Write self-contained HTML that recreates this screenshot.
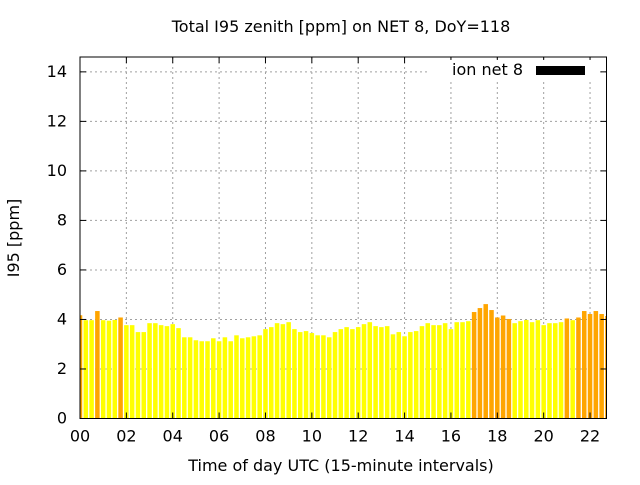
<!DOCTYPE html>
<html><head><meta charset="utf-8"><style>
body{margin:0;background:#fff}
svg text{font-family:"DejaVu Sans","Liberation Sans",sans-serif;fill:#000}
</style></head><body>
<svg id="chart" width="640" height="480" viewBox="0 0 640 480" xmlns="http://www.w3.org/2000/svg">
<rect width="640" height="480" fill="#fff"/>
<defs><clipPath id="pc"><rect x="80" y="57" width="526.5" height="361.5"/></clipPath></defs>
<g id="grid"></g>
<g id="bars" clip-path="url(#pc)"></g>
<rect x="80" y="57" width="526.5" height="361.5" fill="none" stroke="#000" stroke-width="1"/>
<g id="ticks"></g>
<text x="341" y="32" font-size="16" text-anchor="middle">Total I95 zenith [ppm] on NET 8, DoY=118</text>
<text x="341" y="471" font-size="16" text-anchor="middle">Time of day UTC (15-minute intervals)</text>
<text transform="translate(19,238) rotate(-90)" font-size="16" text-anchor="middle">I95 [ppm]</text>
<g>
<rect x="428" y="60" width="170" height="22" fill="#fff"/>
<text x="523" y="75" font-size="16" text-anchor="end">ion net 8</text>
<rect x="536" y="66" width="49" height="9" fill="#000"/>
</g>
</svg>
<script>
const values=[4.17,3.97,3.97,4.34,3.97,3.95,3.98,4.08,3.77,3.77,3.49,3.49,3.85,3.85,3.77,3.73,3.81,3.65,3.28,3.28,3.16,3.12,3.12,3.24,3.12,3.28,3.12,3.36,3.24,3.28,3.32,3.36,3.61,3.69,3.85,3.81,3.89,3.61,3.49,3.53,3.45,3.36,3.36,3.28,3.49,3.61,3.69,3.61,3.69,3.81,3.89,3.73,3.69,3.73,3.40,3.49,3.32,3.49,3.53,3.73,3.85,3.77,3.77,3.85,3.61,3.89,3.89,3.93,4.30,4.46,4.62,4.38,4.08,4.16,4.02,3.85,3.93,3.98,3.89,3.97,3.77,3.85,3.85,3.89,4.04,3.97,4.08,4.34,4.22,4.34,4.22,4.14];
const yTicks=[0,2,4,6,8,10,12,14];
const xTicks=[0,2,4,6,8,10,12,14,16,18,20,22];
const xTickLabels=["00","02","04","06","08","10","12","14","16","18","20","22"];
const threshold=[4.0];
const NS="http://www.w3.org/2000/svg";
const L=80,R=606.5,T=57,B=418.5,XMAX=22.71,YMAX=14.6;
function xs(h){return L+h/XMAX*(R-L);}
function ys(v){return B-v/YMAX*(B-T);}
function mk(t,a,p){const e=document.createElementNS(NS,t);for(const k in a)e.setAttribute(k,a[k]);p.appendChild(e);return e;}
const grid=document.getElementById('grid'),ticks=document.getElementById('ticks'),bars=document.getElementById('bars');
yTicks.forEach(v=>{
  const y=ys(v);
  if(v>0){const g=mk('line',{x1:L,x2:R,y1:y,y2:y,stroke:'#a0a0a0','stroke-dasharray':'2,3'},grid);
  
  }
  const t=mk('text',{x:L-13,y:y+5,'font-size':16,'text-anchor':'end'},ticks);t.textContent=v;
  
  
  mk('line',{x1:L,x2:L+6,y1:y,y2:y,stroke:'#000'},ticks);
  mk('line',{x1:R,x2:R-6,y1:y,y2:y,stroke:'#000'},ticks);
});
xTicks.forEach((h,i)=>{
  const x=xs(h);
  if(h>0){const g=mk('line',{x1:x,x2:x,y1:T,y2:B,stroke:'#a0a0a0','stroke-dasharray':'2,3'},grid);
  
  }
  const t=mk('text',{x:x,y:B+23,'font-size':16,'text-anchor':'middle'},ticks);t.textContent=xTickLabels[i];
  
  
  mk('line',{x1:x,x2:x,y1:B,y2:B-6,stroke:'#000'},ticks);
  mk('line',{x1:x,x2:x,y1:T,y2:T+6,stroke:'#000'},ticks);
});
const bw=(xs(0.25)-xs(0))*0.78;
values.forEach((v,i)=>{
  const cx=xs(i*0.25);
  const r=mk('rect',{x:cx-bw/2,y:ys(v),width:bw,height:ys(0)-ys(v),fill:v>=threshold[0]?'#ffa500':'#ffff00'},bars);
  
  
});
</script>
</body></html>
